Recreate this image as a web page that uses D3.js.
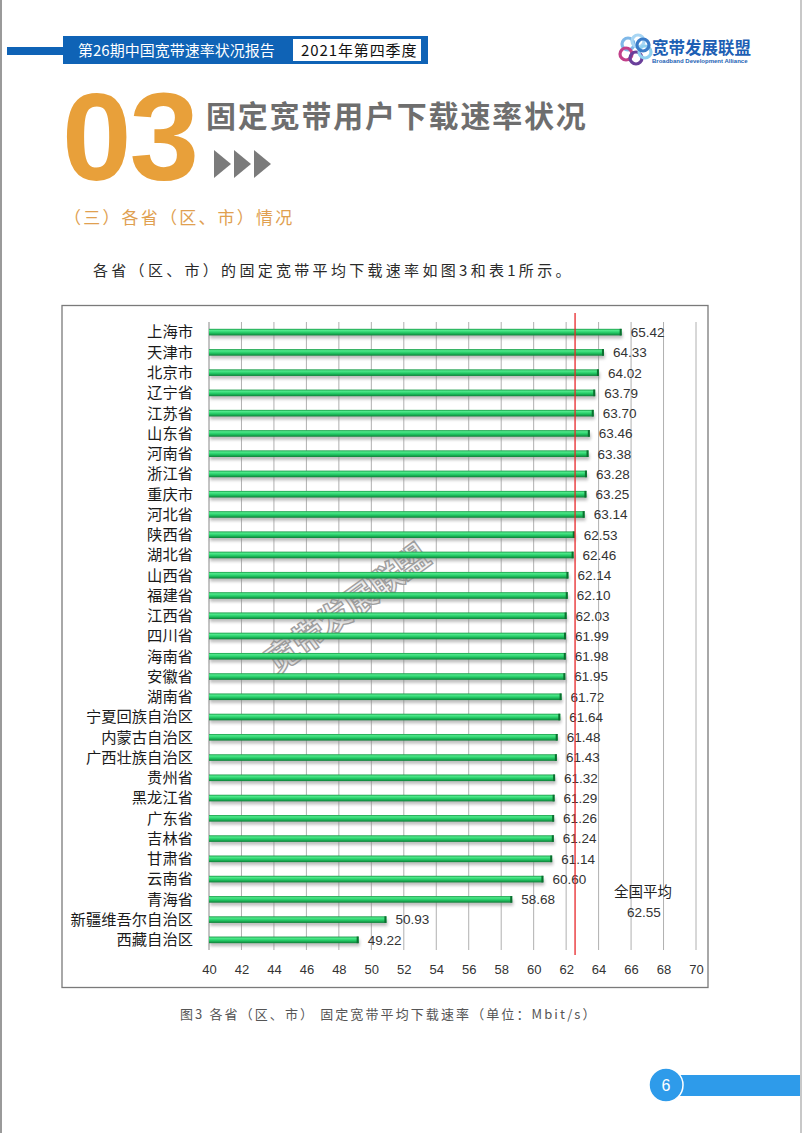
<!DOCTYPE html>
<html><head><meta charset="utf-8">
<script src="https://cdn.jsdelivr.net/npm/d3@7"></script>
<style>html,body{margin:0;padding:0;background:#fff;}svg{display:block;}</style>
</head><body>
<script>
const categories = ["上海市","天津市","北京市","辽宁省","江苏省","山东省","河南省","浙江省","重庆市","河北省","陕西省","湖北省","山西省","福建省","江西省","四川省","海南省","安徽省","湖南省","宁夏回族自治区","内蒙古自治区","广西壮族自治区","贵州省","黑龙江省","广东省","吉林省","甘肃省","云南省","青海省","新疆维吾尔自治区","西藏自治区"];
const speeds = [65.42,64.33,64.02,63.79,63.70,63.46,63.38,63.28,63.25,63.14,62.53,62.46,62.14,62.10,62.03,61.99,61.98,61.95,61.72,61.64,61.48,61.43,61.32,61.29,61.26,61.24,61.14,60.60,58.68,50.93,49.22];
const xTicks = [40,42,44,46,48,50,52,54,56,58,60,62,64,66,68,70];
const nationalAvg = 62.55;
const nationalLabel = "全国平均";

const W = 802, H = 1133;
const svg = d3.select("body").append("svg").attr("width", W).attr("height", H);
const cjk = "'Noto Sans CJK SC','Noto Sans',sans-serif";
const lat = "'Liberation Sans','DejaVu Sans',sans-serif";

const defs = svg.append("defs");
const g1 = defs.append("linearGradient").attr("id","barg").attr("x1",0).attr("y1",0).attr("x2",0).attr("y2",1);
g1.append("stop").attr("offset","0%").attr("stop-color","#1a9a48");
g1.append("stop").attr("offset","25%").attr("stop-color","#4ee98a");
g1.append("stop").attr("offset","60%").attr("stop-color","#22c864");
g1.append("stop").attr("offset","100%").attr("stop-color","#0e7f38");
const f = defs.append("filter").attr("id","sh").attr("x","-5%").attr("y","-50%").attr("width","110%").attr("height","300%");
f.append("feGaussianBlur").attr("stdDeviation",1.6);

// page borders
svg.append("rect").attr("x",0).attr("y",0).attr("width",2).attr("height",H).attr("fill","#9a9a9a");
svg.append("rect").attr("x",800).attr("y",0).attr("width",2).attr("height",H).attr("fill","#c8c8c8");

// header
svg.append("rect").attr("x",7).attr("y",47).attr("width",60).attr("height",8).attr("fill","#0f63b6");
svg.append("rect").attr("x",63).attr("y",36).attr("width",365).attr("height",28).attr("fill","#0f63b6");
svg.append("rect").attr("x",293).attr("y",39).attr("width",128).attr("height",22).attr("fill","#fff");
svg.append("text").attr("x",78).attr("y",56).attr("fill","#fff").attr("font-family",cjk).attr("font-size",15).text("第26期中国宽带速率状况报告");
svg.append("text").attr("x",301).attr("y",56).attr("fill","#111").attr("font-family",cjk).attr("font-size",15).attr("letter-spacing",0.9).text("2021年第四季度");

// logo
const lg = svg.append("g");
[[628,44,"#7fb8e8"],[638,41,"#a8d6f4"],[626,54,"#c2408a"],[636,58,"#6a3f9a"],[645,52,"#8fd0f0"],[643,45,"#3b7cc8"]].forEach(c=>{
  lg.append("circle").attr("cx",c[0]).attr("cy",c[1]).attr("r",6).attr("fill","none").attr("stroke",c[2]).attr("stroke-width",3.2);
});
lg.append("text").attr("x",652).attr("y",54).attr("fill","#1d5fb4").attr("font-family",cjk).attr("font-size",16.5).attr("font-weight","bold").text("宽带发展联盟");
lg.append("text").attr("x",652).attr("y",63).attr("fill","#1d5fb4").attr("font-family",lat).attr("font-size",6).attr("font-weight","bold").text("Broadband Development Alliance");

// big title
svg.append("text").attr("x",62).attr("y",180).attr("fill","#e8a03a").attr("font-family",lat).attr("font-weight","bold").attr("font-size",125).attr("letter-spacing",-2).text("03");
svg.append("text").attr("x",206).attr("y",127).attr("fill","#6e6e6e").attr("font-family",cjk).attr("font-weight","bold").attr("font-size",30).attr("letter-spacing",1.8).text("固定宽带用户下载速率状况");
[214,234,254].forEach(x=>{
  svg.append("path").attr("d",`M${x},150 L${x+17},164 L${x},178 Z`).attr("fill","#7b7b7b");
});
svg.append("text").attr("x",64).attr("y",224).attr("fill","#e0a050").attr("font-family",cjk).attr("font-size",17).attr("letter-spacing",2.2).text("（三）各省（区、市）情况");
svg.append("text").attr("x",93).attr("y",276).attr("fill","#2a2a2a").attr("font-family",cjk).attr("font-size",15).attr("letter-spacing",3.3).text("各省（区、市）的固定宽带平均下载速率如图3和表1所示。");

// chart box
svg.append("rect").attr("x",62).attr("y",305.5).attr("width",646).attr("height",682).attr("fill","#fff").attr("stroke","#7a7a7a").attr("stroke-width",1.3);

const x = d3.scaleLinear().domain([40,70]).range([209,696]);
const y = d3.scaleBand().domain(categories).range([322,950]);
const plotTop = 322, plotBottom = 950;

// gridlines
svg.append("g").selectAll("line").data(xTicks).join("line")
  .attr("x1",d=>x(d)).attr("x2",d=>x(d)).attr("y1",plotTop).attr("y2",plotBottom)
  .attr("stroke",d=>d===40?"#888":"#b0b0b0").attr("stroke-width",1);

// x axis labels
const xAxis = d3.axisBottom(x).tickValues(xTicks).tickSize(0).tickPadding(0);
const ax = svg.append("g").attr("transform","translate(0,965)").call(xAxis);
ax.select(".domain").remove();
ax.selectAll("text").attr("font-family",lat).attr("font-size",13).attr("fill","#333");

// y axis labels
const yAxis = d3.axisLeft(y).tickSize(0).tickPadding(0);
const ay = svg.append("g").attr("transform","translate(193,0)").call(yAxis);
ay.select(".domain").remove();
ay.selectAll("text").attr("font-family",cjk).attr("font-size",15.3).attr("fill","#1a1a1a").attr("dy","0.35em");

// watermark
svg.append("text").attr("transform","translate(354,618) rotate(-36)").attr("text-anchor","middle")
  .attr("font-family",cjk).attr("font-weight","bold").attr("font-size",33).attr("fill","rgba(235,235,235,0.6)")
  .attr("stroke","#a0a0a0").attr("stroke-width",1.4).attr("letter-spacing",-1).text("宽带发展联盟");

// bars
const bh = 6.6;
const bars = svg.append("g");
bars.selectAll("rect.s").data(categories).join("rect").attr("class","s")
  .attr("x",x(40)+1).attr("y",d=>y(d)+y.bandwidth()/2-bh/2+3)
  .attr("width",(d,i)=>x(speeds[i])-x(40)).attr("height",bh).attr("fill","#8a8a8a").attr("opacity",0.55).attr("filter","url(#sh)");
bars.selectAll("rect.b").data(categories).join("rect").attr("class","b")
  .attr("x",x(40)).attr("y",d=>y(d)+y.bandwidth()/2-bh/2)
  .attr("width",(d,i)=>x(speeds[i])-x(40)).attr("height",bh).attr("fill","url(#barg)");
bars.selectAll("rect.e").data(categories).join("rect").attr("class","e")
  .attr("x",(d,i)=>x(speeds[i])-2).attr("y",d=>y(d)+y.bandwidth()/2-bh/2)
  .attr("width",2).attr("height",bh).attr("fill","#0c6f30");

// value labels
svg.append("g").selectAll("text").data(categories).join("text")
  .attr("x",(d,i)=>x(speeds[i])+9).attr("y",d=>y(d)+y.bandwidth()/2).attr("dy","0.36em")
  .attr("font-family",lat).attr("font-size",13.5).attr("fill","#333")
  .text((d,i)=>speeds[i].toFixed(2));

// national average line
svg.append("line").attr("x1",x(nationalAvg)).attr("x2",x(nationalAvg)).attr("y1",313).attr("y2",955)
  .attr("stroke","#e8262a").attr("stroke-width",1.3);
svg.append("text").attr("x",643).attr("y",897).attr("text-anchor","middle").attr("font-family",cjk).attr("font-size",14.5).attr("fill","#222").text(nationalLabel);
svg.append("text").attr("x",644).attr("y",917).attr("text-anchor","middle").attr("font-family",lat).attr("font-size",13.5).attr("fill","#333").text(nationalAvg.toFixed(2));

// caption
svg.append("text").attr("x",180).attr("y",1019).attr("fill","#555").attr("font-family",cjk).attr("font-size",13).attr("letter-spacing",2.1).text("图3 各省（区、市） 固定宽带平均下载速率（单位：Mbit/s）");

// footer
svg.append("rect").attr("x",675).attr("y",1075).attr("width",125).attr("height",21).attr("fill","#2e9bea");
svg.append("circle").attr("cx",666).attr("cy",1085).attr("r",17).attr("fill","#2e9bea").attr("stroke","#fff").attr("stroke-width",1.5);
svg.append("text").attr("x",666).attr("y",1091).attr("text-anchor","middle").attr("fill","#fff").attr("font-family",lat).attr("font-size",16).text("6");
</script>
</body></html>
